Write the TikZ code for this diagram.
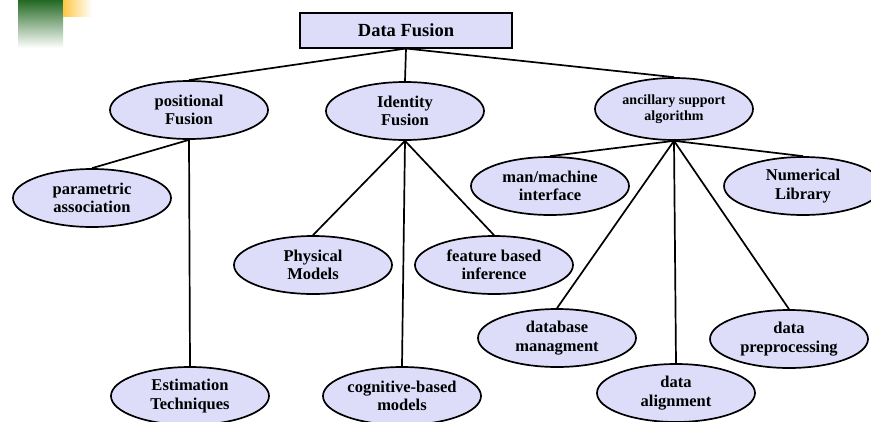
\documentclass[tikz,border=0pt]{standalone}
\usepackage{fontspec}
\setmainfont{Liberation Serif}
\usetikzlibrary{shapes.geometric}
\definecolor{nodefill}{RGB}{221,221,250}
\definecolor{cgreen}{RGB}{35,105,35}
\definecolor{cyellow}{RGB}{255,200,70}
\tikzset{
  ell/.style={ellipse, draw=black, line width=1.7pt, fill=nodefill, minimum width=158pt, minimum height=58pt, inner sep=0pt, align=center, font=\fontsize{16.5}{18.5}\selectfont\bfseries},
  topbox/.style={rectangle, draw=black, line width=2pt, fill=nodefill, minimum width=212pt, minimum height=35pt, inner sep=0pt, font=\fontsize{18.5}{20}\selectfont\bfseries},
  conn/.style={line width=1.7pt}
}
\begin{document}
\begin{tikzpicture}[x=1pt,y=-1pt]
\useasboundingbox (0,0) rectangle (871,421);
\fill[white] (0,0) rectangle (871,421);
% corner decoration
\shade[top color=cgreen, bottom color=white] (18,0) rectangle (63,48);
\shade[left color=cyellow, right color=white] (63,0) rectangle (92,16);
% nodes
\node[topbox] (df) at (406,30) {Data Fusion};
\node[ell] (pos) at (189,110) {positional\\Fusion};
\node[ell] (id) at (405,111) {Identity\\Fusion};
\node[ell, minimum height=62pt, font=\fontsize{14}{16}\selectfont\bfseries] (anc) at (674,109) {ancillary support\\algorithm};
\node[ell] (pa) at (92,198) {parametric\\association};
\node[ell] (pm) at (313,265) {Physical\\Models};
\node[ell] (fb) at (494,265) {feature based\\inference};
\node[ell] (mm) at (550,186) {man/machine\\interface};
\node[ell] (nl) at (803,186) {Numerical\\Library};
\node[ell] (db) at (557,338) {database\\managment};
\node[ell] (dp) at (789,339) {data\\preprocessing};
\node[ell] (al) at (676,393) {data\\alignment};
\node[ell] (est) at (190,396) {Estimation\\Techniques};
\node[ell] (cog) at (402,396) {cognitive-based\\models};
% connectors
\draw[conn] (df.south) -- (pos.north);
\draw[conn] (df.south) -- (id.north);
\draw[conn] (df.south) -- (anc.north);
\draw[conn] (pos.south) -- (pa.north);
\draw[conn] (pos.south) -- (est.north);
\draw[conn] (id.south) -- (pm.north);
\draw[conn] (id.south) -- (fb.north);
\draw[conn] (id.south) -- (cog.north);
\draw[conn] (anc.south) -- (mm.north);
\draw[conn] (anc.south) -- (nl.north);
\draw[conn] (anc.south) -- (db.north);
\draw[conn] (anc.south) -- (al.north);
\draw[conn] (anc.south) -- (dp.north);
\end{tikzpicture}
\end{document}
